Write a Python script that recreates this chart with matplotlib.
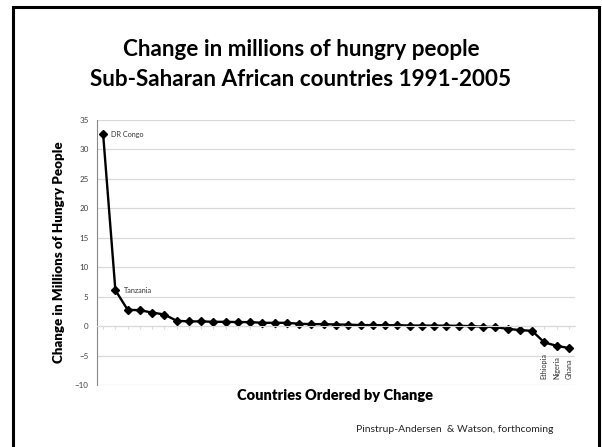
import matplotlib.pyplot as plt
from matplotlib.patches import Rectangle

# Change in millions of hungry people, 1991-2005, countries sorted by change
change = [32.6, 6.1, 2.77, 2.7, 2.3, 1.97, 0.9, 0.8, 0.8, 0.73,
          0.73, 0.68, 0.68, 0.56, 0.56, 0.56, 0.4, 0.34, 0.34, 0.27,
          0.25, 0.17, 0.17, 0.15, 0.15, 0.1, 0.1, 0.08, 0.08, 0.05,
          0.0, -0.1, -0.17, -0.46, -0.68, -0.8, -2.78, -3.34, -3.73]
top_labels = {0: "DR Congo", 1: "Tanzania"}
bottom_labels = {36: "Ethiopia", 37: "Nigeria", 38: "Ghana"}
yticks = list(range(-10, 40, 5))

plt.rcParams['font.family'] = ['Lato', 'DejaVu Sans']

fig = plt.figure(figsize=(6.02, 4.47), dpi=100)

# slide frame
fig.patches.append(Rectangle((13 / 602, -0.05), (599 - 13) / 602, 1.05 - 7 / 447,
                             transform=fig.transFigure, fill=False,
                             edgecolor='black', linewidth=2.2))

fig.text(0.5, 1 - 50 / 447, "Change in millions of hungry people",
         ha='center', va='center', fontsize=16.2, fontweight='bold')
fig.text(0.5, 1 - 79 / 447, "Sub-Saharan African countries 1991-2005",
         ha='center', va='center', fontsize=16.2, fontweight='bold')

ax = fig.add_axes([97 / 602, 1 - 385 / 447, (575 - 97) / 602, (385 - 120) / 447])
x = list(range(len(change)))
ax.plot(x, change, color='black', linewidth=1.7, marker='D', markersize=3.8)

ax.set_xlim(-0.5, len(change) - 0.5)
ax.set_ylim(-10, 35)
ax.set_yticks(yticks)
ax.tick_params(axis='y', labelsize=5.8, length=0, pad=6, colors='#404040')
ax.yaxis.grid(True, color='#d9d9d9', linewidth=0.9)
ax.set_axisbelow(True)

# category axis sits on zero
ax.spines['bottom'].set_position(('data', 0))
ax.spines['bottom'].set_color('#d9d9d9')
ax.set_xticks(x)
ax.set_xticklabels([])
ax.tick_params(axis='x', direction='out', length=2, color='#d9d9d9')
ax.spines['left'].set_color('#868686')
ax.spines['top'].set_visible(False)
ax.spines['right'].set_visible(False)

for i, name in top_labels.items():
    ax.annotate(name, (i, change[i]), xytext=(6, 0), textcoords='offset points',
                ha='left', va='center', fontsize=5.2, color='#333333')
for i, name in bottom_labels.items():
    ax.text(i, -8.9, name, rotation=90, ha='center', va='bottom',
            fontsize=5.2, color='#333333')

ax.set_ylabel("Change in Millions of Hungry People", fontsize=9.6,
              fontweight='heavy', labelpad=7)
fig.text(335 / 602, 1 - 395 / 447, "Countries Ordered by Change",
         ha='center', va='center', fontsize=10.5, fontweight='heavy')
fig.text(553 / 602, 1 - 429 / 447, "Pinstrup-Andersen  & Watson, forthcoming",
         ha='right', va='center', fontsize=7.5, color='#262626')

fig.savefig("out.png", dpi=100)
